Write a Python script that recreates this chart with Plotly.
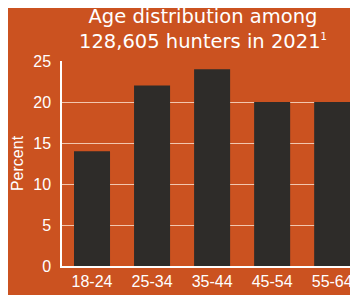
import plotly.graph_objects as go

categories = ["18-24", "25-34", "35-44", "45-54", "55-64"]
percent = [14, 22, 24, 20, 20]
y_ticks = [0, 5, 10, 15, 20, 25]

BG = "#CB5220"
BAR = "#2E2C29"
FONT = "Liberation Sans, Arial, sans-serif"
TITLE_FONT = "DejaVu Sans, sans-serif"

fig = go.Figure(go.Bar(x=categories, y=percent, marker_color=BAR, width=0.6,
                       marker_line_width=0))
fig.update_layout(
    width=350, height=287,
    paper_bgcolor=BG, plot_bgcolor=BG,
    margin=dict(l=54, r=0, t=53, b=29),
    showlegend=False,
    bargap=0.4,
    annotations=[dict(
        text="Age distribution among<br>128,605 hunters in 2021<sup><span style='font-size:10px'>1</span></sup>",
        xref="paper", yref="paper", x=(195 - 54) / 296, y=1.031,
        xanchor="center", yanchor="bottom", showarrow=False, align="center",
        font=dict(family=TITLE_FONT, size=19.5, color="white"))],
)
fig.update_xaxes(type="category", range=[-0.5, 4.43], showgrid=False,
                 showline=True, linecolor="white", linewidth=2,
                 tickfont=dict(family=FONT, size=16, color="white"), ticks="")
fig.update_yaxes(range=[0, 25], tickvals=y_ticks, showgrid=True,
                 gridcolor="#F2C6AE", gridwidth=1, zeroline=False,
                 showline=True, linecolor="white", linewidth=1.5,
                 tickfont=dict(family=FONT, size=16, color="white"),
                 ticklabelstandoff=6,
                 title=dict(text="Percent", font=dict(family=FONT, size=16, color="white"), standoff=6),
                 ticks="", ticklen=0)
fig.write_html("out.html")
